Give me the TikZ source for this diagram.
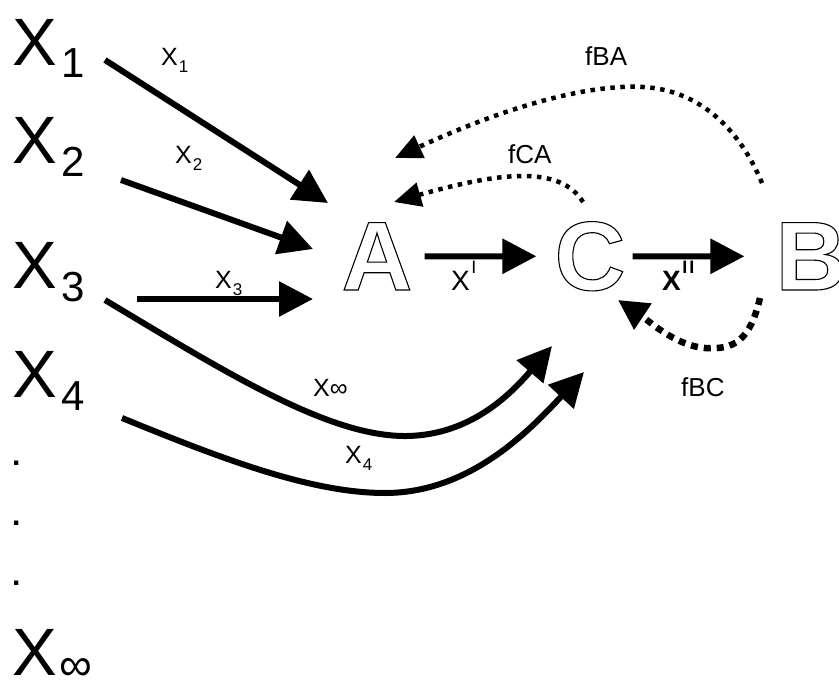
\documentclass[tikz,border=0pt]{standalone}
\usepackage{fontspec}
\setmainfont{Liberation Sans}
\usetikzlibrary{arrows.meta,calc}

\newcommand{\bigsub}[1]{\kern5pt\raisebox{-13pt}[\height][0pt]{\fontsize{42}{42}\selectfont #1}}
\newcommand{\smallsub}[1]{\kern1pt\raisebox{-7pt}{\fontsize{17}{17}\selectfont #1}}
\newcommand{\smallsup}[1]{\kern1.5pt\raisebox{17pt}{\fontsize{18}{18}\selectfont #1}}
\newcommand{\hollow}[1]{\special{pdf:literal direct 1 Tr 1.1 w}#1\special{pdf:literal direct 0 Tr}}

\begin{document}
\begin{tikzpicture}[x=1pt,y=-1pt,
    bigx/.style={anchor=base west,inner sep=0pt,font=\fontsize{67}{67}\selectfont},
    lbl/.style={anchor=base west,inner sep=0pt,font=\fontsize{25}{25}\selectfont},
    flbl/.style={anchor=base west,inner sep=0pt,font=\fontsize{26}{26}\selectfont},
    letter/.style={anchor=base,inner sep=0pt,font=\bfseries\fontsize{98}{98}\selectfont},
    arr/.style={line width=6pt,-{Triangle[length=34pt,width=34pt]}},
    fdot/.style={line width=4.5pt,dash pattern=on 4.5pt off 5.5pt,-{Triangle[length=27pt,width=24pt]}},
    fdotb/.style={line width=6.5pt,dash pattern=on 7pt off 6pt,-{Triangle[length=30pt,width=30pt]}}]
\useasboundingbox (0,0) rectangle (839,680);

% Inputs
\node[bigx] (x1) at (12,65) {X\bigsub{1}};
\node[bigx] (x2) at (12,163) {X\bigsub{2}};
\node[bigx] (x3) at (12,288) {X\bigsub{3}};
\node[bigx] (x4) at (12,397) {X\bigsub{4}};
\foreach \y [count=\i] in {465,525,585}
    \node[lbl,font=\bfseries\fontsize{30}{30}\selectfont] (dot\i) at (12,\y) {.};
\node[bigx] (xinf) at (12,675) {X\kern3pt\raisebox{-5pt}[\height][0pt]{\fontsize{46}{46}\selectfont ∞}};

% Stages
\node[letter] (A) at (377,290) {\hollow{A}};
\node[letter] (C) at (590,290) {\hollow{C}};
\node[letter] (B) at (811,290) {\hollow{B}};

% Labels
\node[lbl] (l1) at (161,65) {X\smallsub{1}};
\node[lbl] (l2) at (175,163) {X\smallsub{2}};
\node[lbl] (l3) at (215,288) {X\smallsub{3}};
\node[lbl] (linf) at (313,396) {X∞};
\node[lbl] (l4) at (345,463) {X\smallsub{4}};
\node[font=\fontsize{28}{28}\selectfont,anchor=base west,inner sep=0pt] (xp) at (451,290) {X\smallsup{I}};
\node[font=\bfseries\fontsize{28}{28}\selectfont,anchor=base west,inner sep=0pt] (xpp) at (662,290) {X\smallsup{I\kern2pt I}};
\node[flbl] (fba) at (585,65) {fBA};
\node[flbl] (fca) at (508,163) {fCA};
\node[flbl] (fbc) at (681,396) {fBC};

% Flows into A
\draw[arr] ($(x1.base west)+(93,-5)$) -- ($(A.base)+(-49,-87)$);
\draw[arr] ($(x2.base west)+(109,17)$) -- ($(A.base)+(-64,-41)$);
\draw[arr] ($(x3.base west)+(125,11)$) -- ($(A.base)+(-64,9)$);

% Flows into C
\draw[arr] ($(x3.base west)+(93,12)$) .. controls (230,375) and (330,437) .. (407,436)
    .. controls (470,435) and (510,395) .. ($(C.base)+(-38,56)$);
\draw[arr] ($(x4.base west)+(110,21)$) .. controls (220,458) and (310,493) .. (385,493)
    .. controls (470,493) and (530,430) .. ($(C.base)+(-6,82)$);

% Main line
\draw[arr] ([xshift=12pt]A.east) -- ([xshift=-18pt]C.west);
\draw[arr] ([xshift=7pt]C.east) -- ([xshift=-31pt]B.west);

% Feedback
\draw[fdot] ($(C.base)+(-7,-88)$) .. controls +(-23,-37) and +(106,-30) .. ($(A.base)+(17,-88)$);
\draw[fdot] ($(B.base)+(-49,-107)$) .. controls (740,130) and (700,90) .. (643,87)
    .. controls (590,84) and (510,105) .. ($(A.base)+(18,-132)$);
\draw[fdotb] ($(B.base)+(-51,8)$) .. controls (750,340) and (735,350) .. (705,348)
    .. controls (675,346) and (645,318) .. ($(C.base)+(28,10)$);
\end{tikzpicture}
\end{document}
